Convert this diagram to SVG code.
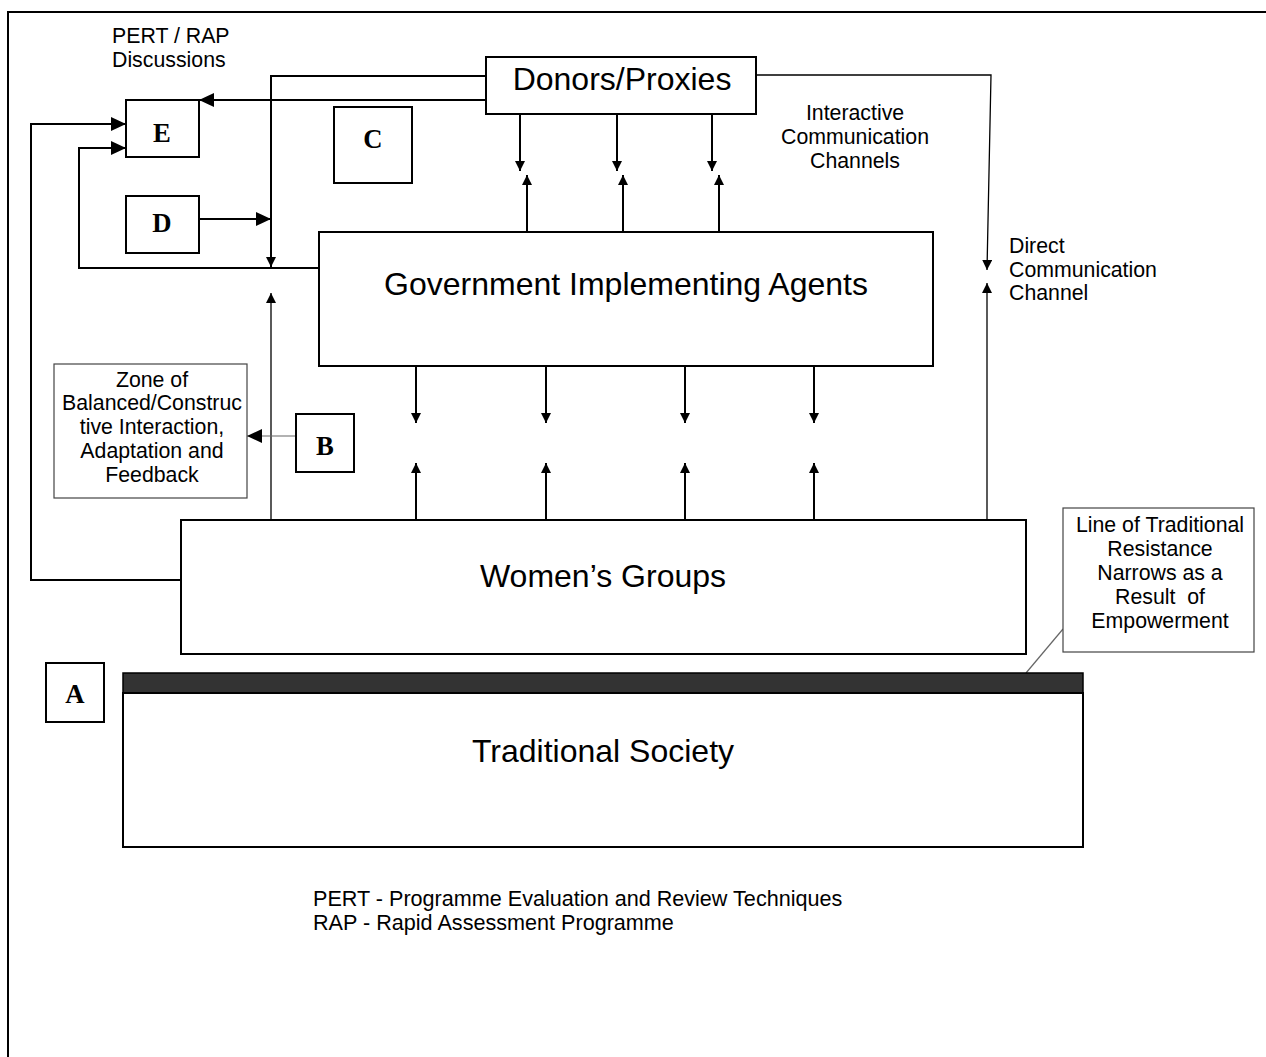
<svg xmlns="http://www.w3.org/2000/svg" width="1266" height="1057" viewBox="0 0 1266 1057">
  <defs>
    <!-- large and small filled arrowheads, sized in user units -->
    <marker id="arrBig" markerUnits="userSpaceOnUse" markerWidth="16" markerHeight="14" refX="15" refY="7" orient="auto">
      <path d="M0,0 L15,7 L0,14 Z" fill="#000"/>
    </marker>
    <marker id="arrSmall" markerUnits="userSpaceOnUse" markerWidth="11" markerHeight="10" refX="10" refY="5" orient="auto">
      <path d="M0,0 L10,5 L0,10 Z" fill="#000"/>
    </marker>
    <style>
      .box { fill: #fff; stroke: #000; stroke-width: 2; }
      .note { fill: #fff; stroke: #444; stroke-width: 1.2; }
      .big { font-family: "Liberation Sans", Arial, sans-serif; font-size: 32px; fill: #000; text-anchor: middle; }
      .small { font-family: "Liberation Sans", Arial, sans-serif; font-size: 21.3px; fill: #000; white-space: pre; }
      .foot { font-size: 21.6px; }
      .mid { text-anchor: middle; }
      .tag { font-family: "Liberation Serif", "Times New Roman", serif; font-size: 26.7px; font-weight: bold; fill: #000; text-anchor: middle; }
      .wire { fill: none; stroke: #000; stroke-width: 2; }
      .thin { fill: none; stroke: #000; stroke-width: 1.3; }
      .grey { fill: none; stroke: #666; stroke-width: 1.2; }
    </style>
  </defs>

  <rect width="1266" height="1057" fill="#fff"/>
  <!-- page frame -->
  <rect x="8" y="12" width="1280" height="1100" fill="none" stroke="#000" stroke-width="2"/>

  <!-- connectors -->
  <g id="connectors">
    <path class="wire" d="M486 76 H271 V267" marker-end="url(#arrSmall)"/>
    <path class="wire" d="M486 100 H199" marker-end="url(#arrBig)"/>
    <path class="wire" d="M199 219 H271" marker-end="url(#arrBig)"/>
    <path class="wire" d="M319 268 H79 V148 H126" marker-end="url(#arrBig)"/>
    <path class="wire" d="M181 580 H31 V124 H126" marker-end="url(#arrBig)"/>
    <path class="thin" d="M271 522 V293" marker-end="url(#arrSmall)"/>

    <!-- donors <-> government channels -->
    <path class="wire" d="M520 114 V171" marker-end="url(#arrSmall)"/>
    <path class="wire" d="M617 114 V171" marker-end="url(#arrSmall)"/>
    <path class="wire" d="M712 114 V171" marker-end="url(#arrSmall)"/>
    <path class="wire" d="M527 232 V175" marker-end="url(#arrSmall)"/>
    <path class="wire" d="M623 232 V175" marker-end="url(#arrSmall)"/>
    <path class="wire" d="M719 232 V175" marker-end="url(#arrSmall)"/>

    <!-- government <-> women's groups channels -->
    <path class="wire" d="M416 366 V423" marker-end="url(#arrSmall)"/>
    <path class="wire" d="M546 366 V423" marker-end="url(#arrSmall)"/>
    <path class="wire" d="M685 366 V423" marker-end="url(#arrSmall)"/>
    <path class="wire" d="M814 366 V423" marker-end="url(#arrSmall)"/>
    <path class="wire" d="M416 520 V463" marker-end="url(#arrSmall)"/>
    <path class="wire" d="M546 520 V463" marker-end="url(#arrSmall)"/>
    <path class="wire" d="M685 520 V463" marker-end="url(#arrSmall)"/>
    <path class="wire" d="M814 520 V463" marker-end="url(#arrSmall)"/>

    <!-- direct channel -->
    <path class="thin" d="M756 75 H991 L987 270" marker-end="url(#arrSmall)"/>
    <path class="thin" d="M987 520 V283" marker-end="url(#arrSmall)"/>

    <path class="grey" d="M296 436 H247" marker-end="url(#arrBig)"/>
    <path class="grey" d="M1063 629 L1026 673"/>
  </g>

  <!-- nodes -->
  <g id="donors">
    <rect class="box" x="486" y="57" width="270" height="57"/>
    <text class="big" x="622" y="90">Donors/Proxies</text>
  </g>

  <g id="government">
    <rect class="box" x="319" y="232" width="614" height="134"/>
    <text class="big" x="626" y="295">Government Implementing Agents</text>
  </g>

  <g id="womens-groups">
    <rect class="box" x="181" y="520" width="845" height="134"/>
    <text class="big" x="603" y="587">Women’s Groups</text>
  </g>

  <g id="traditional-society">
    <rect x="123" y="673" width="960" height="20" fill="#333" stroke="#000" stroke-width="1.5"/>
    <rect class="box" x="123" y="693" width="960" height="154" stroke-width="1.5"/>
    <text class="big" x="603" y="762">Traditional Society</text>
  </g>

  <g id="node-e">
    <rect class="box" x="126" y="100" width="73" height="57"/>
    <text class="tag" x="162" y="142">E</text>
  </g>
  <g id="node-c">
    <rect class="box" x="334" y="107" width="78" height="76"/>
    <text class="tag" x="373" y="148">C</text>
  </g>
  <g id="node-d">
    <rect class="box" x="126" y="196" width="73" height="57"/>
    <text class="tag" x="162" y="232">D</text>
  </g>
  <g id="node-b">
    <rect class="box" x="296" y="414" width="58" height="58"/>
    <text class="tag" x="325" y="455">B</text>
  </g>
  <g id="node-a">
    <rect class="box" x="46" y="663" width="58" height="59"/>
    <text class="tag" x="75" y="703">A</text>
  </g>

  <g id="zone-note">
    <rect class="note" x="54" y="364" width="193" height="134"/>
    <text class="small mid" x="152"><tspan x="152" y="387">Zone of</tspan><tspan x="152" y="410">Balanced/Construc</tspan><tspan x="152" y="434">tive Interaction,</tspan><tspan x="152" y="458">Adaptation and</tspan><tspan x="152" y="482">Feedback</tspan></text>
  </g>

  <g id="resistance-note">
    <rect class="note" x="1063" y="508" width="191" height="144"/>
    <text class="small mid" x="1160"><tspan x="1160" y="532">Line of Traditional</tspan><tspan x="1160" y="556">Resistance</tspan><tspan x="1160" y="580">Narrows as a</tspan><tspan x="1160" y="604">Result  of</tspan><tspan x="1160" y="628">Empowerment</tspan></text>
  </g>

  <!-- free labels -->
  <g id="labels">
    <text class="small" x="112"><tspan x="112" y="43">PERT / RAP</tspan><tspan x="112" y="67">Discussions</tspan></text>
    <text class="small mid" x="855"><tspan x="855" y="120">Interactive</tspan><tspan x="855" y="144">Communication</tspan><tspan x="855" y="168">Channels</tspan></text>
    <text class="small" x="1009"><tspan x="1009" y="253">Direct</tspan><tspan x="1009" y="277">Communication</tspan><tspan x="1009" y="300">Channel</tspan></text>
    <text class="small foot" x="313"><tspan x="313" y="906">PERT - Programme Evaluation and Review Techniques</tspan><tspan x="313" y="930">RAP - Rapid Assessment Programme</tspan></text>
  </g>
</svg>
